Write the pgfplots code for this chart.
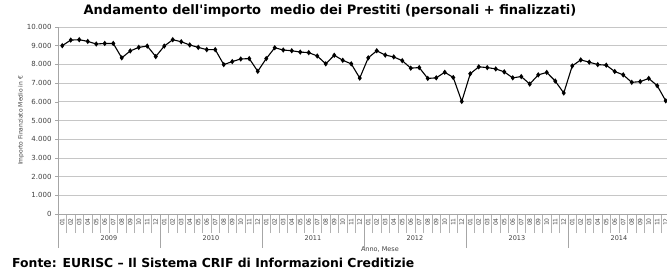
\documentclass[border=0pt]{standalone}
\usepackage{fontspec}
\setmainfont{DejaVu Sans}[Ligatures=TeXOff]
\usepackage{pgfplots}
\pgfplotsset{compat=1.18}
\usepackage{pgfplotstable}

\pgfplotstableread{
idx val
0 9000
1 9300
2 9320
3 9230
4 9090
5 9120
6 9120
7 8350
8 8720
9 8910
10 8980
11 8420
12 8980
13 9320
14 9210
15 9040
16 8910
17 8790
18 8790
19 7990
20 8150
21 8290
22 8310
23 7630
24 8310
25 8890
26 8770
27 8730
28 8660
29 8630
30 8450
31 8030
32 8490
33 8220
34 8030
35 7270
36 8350
37 8730
38 8500
39 8400
40 8200
41 7800
42 7830
43 7250
44 7280
45 7580
46 7300
47 6020
48 7500
49 7870
50 7830
51 7760
52 7600
53 7280
54 7350
55 6950
56 7440
57 7570
58 7110
59 6470
60 7920
61 8240
62 8120
63 7990
64 7960
65 7620
66 7440
67 7040
68 7080
69 7250
70 6860
71 6050
}\datatable

\begin{document}
\begin{tikzpicture}
\useasboundingbox (0pt,0pt) rectangle (667pt,268pt);
\clip (0pt,0pt) rectangle (667pt,268pt);
\node[anchor=base, inner sep=0pt, font=\bfseries\fontsize{13}{14}\selectfont] at (330pt,253pt)
  {Andamento dell'importo\ \ medio dei Prestiti (personali + finalizzati)};
\begin{axis}[
  at={(58pt,54pt)}, anchor=south west,
  width=612pt, height=187pt, scale only axis,
  xmin=-0.5, xmax=71.5, ymin=0, ymax=10000,
  clip=false,
  axis x line=bottom, axis y line=left,
  axis line style={-, draw=gray!70, line width=0.6pt},
  tick align=outside,
  major tick length=3pt,
  minor tick length=19pt,
  xtick={0,...,71},
  xticklabels={01,02,03,04,05,06,07,08,09,10,11,12,
               01,02,03,04,05,06,07,08,09,10,11,12,
               01,02,03,04,05,06,07,08,09,10,11,12,
               01,02,03,04,05,06,07,08,09,10,11,12,
               01,02,03,04,05,06,07,08,09,10,11,12,
               01,02,03,04,05,06,07,08,09,10,11,12},
  major x tick style={draw=none},
  minor xtick={-0.5,0.5,...,71.5},
  minor x tick style={draw=gray!60, line width=0.5pt},
  extra x ticks={-0.5,11.5,23.5,35.5,47.5,59.5,71.5},
  extra x tick labels={},
  extra x tick style={major tick length=34pt, major x tick style={draw=gray!70, line width=0.6pt}},
  xticklabel style={rotate=90, anchor=east, font=\fontsize{6}{6}\selectfont, text=black!70, inner sep=1pt},
  ytick={0,1000,...,10000},
  y tick style={draw=gray!70, line width=0.6pt},
  scaled y ticks=false,
  /pgf/number format/assume math mode=true,
  yticklabel style={font=\fontsize{7}{8}\selectfont, text=black!75, /pgf/number format/1000 sep={.}, /pgf/number format/fixed},
  ymajorgrids,
  grid style={draw=gray!45, line width=0.7pt},
  ylabel={Importo Finanziato Medio in €},
  ylabel style={at={(axis description cs:-0.0605,0.5)}, anchor=center, font=\fontsize{6}{7}\selectfont, text=black!75},
  xlabel={Anno, Mese},
  xlabel style={at={(axis description cs:0.526,-0.1925)}, anchor=center, font=\fontsize{6.5}{7}\selectfont, text=black!75},
]
\addplot[black, line width=1.1pt, mark=diamond*, mark size=1.8pt] table[x=idx,y=val]{\datatable};
\node[font=\fontsize{6.5}{7}\selectfont, text=black!75, yshift=-24pt] at (axis cs:5.5,0) {2009};
\node[font=\fontsize{6.5}{7}\selectfont, text=black!75, yshift=-24pt] at (axis cs:17.5,0) {2010};
\node[font=\fontsize{6.5}{7}\selectfont, text=black!75, yshift=-24pt] at (axis cs:29.5,0) {2011};
\node[font=\fontsize{6.5}{7}\selectfont, text=black!75, yshift=-24pt] at (axis cs:41.5,0) {2012};
\node[font=\fontsize{6.5}{7}\selectfont, text=black!75, yshift=-24pt] at (axis cs:53.5,0) {2013};
\node[font=\fontsize{6.5}{7}\selectfont, text=black!75, yshift=-24pt] at (axis cs:65.5,0) {2014};
\end{axis}
\node[anchor=base west, inner sep=0pt, font=\bfseries\fontsize{12.4}{13}\selectfont] at (12pt,0.8pt)
  {Fonte: EURISC – Il Sistema CRIF di Informazioni Creditizie};
\end{tikzpicture}
\end{document}
